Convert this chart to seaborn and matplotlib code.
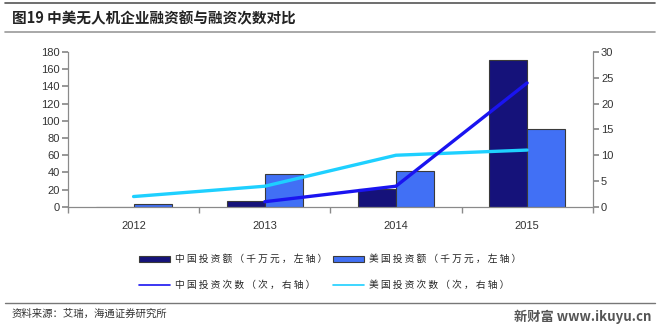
import matplotlib
matplotlib.use("Agg")
import matplotlib.pyplot as plt
import seaborn as sns
import pandas as pd
import numpy as np
from matplotlib.patches import Patch
from matplotlib.lines import Line2D

years = ["2012", "2013", "2014", "2015"]
cn_amount = [0, 7, 21, 171]
us_amount = [3, 38, 42, 91]
cn_count = [np.nan, 1, 4, 24]
us_count = [2, 4, 10, 11]

lbl_cn_amt = "中 国 投 资 额 （ 千 万 元 ， 左 轴 ）"
lbl_us_amt = "美 国 投 资 额 （ 千 万 元 ， 左 轴 ）"
lbl_cn_cnt = "中 国 投 资 次 数 （ 次 ， 右 轴 ）"
lbl_us_cnt = "美 国 投 资 次 数 （ 次 ， 右 轴 ）"

sns.set_theme(style="white")
plt.rcParams["font.family"] = ["Liberation Sans", "Noto Sans CJK SC", "DejaVu Sans"]

c_cn_bar = "#15127a"
c_us_bar = "#4170f5"
c_cn_line = "#1a14f0"
c_us_line = "#1ed0ff"
grey = "#8a8a8a"

bars = pd.DataFrame({
    "year": years * 2,
    "value": cn_amount + us_amount,
    "series": ["cn"] * 4 + ["us"] * 4,
})

fig = plt.figure(figsize=(6.6, 3.31), dpi=100)
ax = fig.add_axes([0.103, 0.375, 0.795, 0.468])

sns.barplot(data=bars, x="year", y="value", hue="series", order=years,
            hue_order=["cn", "us"], palette=[c_cn_bar, c_us_bar], saturation=1,
            width=0.58, edgecolor="#3a3a3a", linewidth=0.8, ax=ax, legend=False)
ax.set_ylim(0, 180)
ax.set_yticks(range(0, 181, 20))
ax.set_xlim(-0.5, 3.5)

ax2 = ax.twinx()
lines = pd.DataFrame({"year": years, "cn": cn_count, "us": us_count})
sns.lineplot(x=np.arange(len(years)), y=lines["us"], ax=ax2, color=c_us_line, lw=2.4)
sns.lineplot(x=np.arange(len(years)), y=lines["cn"], ax=ax2, color=c_cn_line, lw=2.4)
ax2.set_ylim(0, 30)
ax2.set_yticks(range(0, 31, 5))
ax2.set_xlim(-0.5, 3.5)
ax2.set_ylabel("")

ax.set_xlabel("")
ax.set_ylabel("")
ax.set_xticks(range(4))
ax.set_xticklabels(years)
ax.set_xticks(np.arange(-0.5, 4, 1), minor=True)

for a in (ax, ax2):
    for s in a.spines.values():
        s.set_color(grey)
        s.set_linewidth(0.8)
    a.spines["top"].set_visible(False)
    a.tick_params(colors="#333333", labelsize=8)
ax.tick_params(axis="y", which="major", length=4, color=grey, direction="out", left=True, pad=2)
ax2.tick_params(axis="y", which="major", length=4, color=grey, direction="out", right=True, pad=2)
ax.tick_params(axis="x", which="major", length=0, pad=10)
ax.tick_params(axis="x", which="minor", length=4, color=grey, direction="out", bottom=True)
ax2.tick_params(axis="x", which="both", length=0)

handles = [
    Patch(facecolor=c_cn_bar, edgecolor="#3a3a3a", linewidth=0.8, label=lbl_cn_amt),
    Line2D([0], [0], color=c_cn_line, lw=1.2, label=lbl_cn_cnt),
    Patch(facecolor=c_us_bar, edgecolor="#3a3a3a", linewidth=0.8, label=lbl_us_amt),
    Line2D([0], [0], color=c_us_line, lw=1.2, label=lbl_us_cnt),
]
fig.legend(handles=handles, loc="center", bbox_to_anchor=(0.5, 0.178), ncol=2,
           frameon=False, handlelength=3.2, handleheight=0.5,
           columnspacing=0.6, handletextpad=0.5, labelspacing=1.6,
           prop={"family": ["Noto Sans CJK SC"], "size": 7})

fig.add_artist(Line2D([0.008, 0.992], [1 - 3 / 331, 1 - 3 / 331], color="#555555", lw=1.2))
fig.add_artist(Line2D([0.008, 0.992], [1 - 32 / 331, 1 - 32 / 331], color="#999999", lw=1.2))
fig.add_artist(Line2D([0.008, 0.992], [1 - 303 / 331, 1 - 303 / 331], color="#777777", lw=1.0))
fig.text(12 / 660, 1 - 18 / 331, "图19 中美无人机企业融资额与融资次数对比", fontsize=10.5,
         fontweight="bold", va="center", ha="left", color="#222222",
         family=["Noto Sans CJK SC"])
fig.text(12 / 660, 1 - 314 / 331, "资料来源：艾瑞，海通证券研究所", fontsize=7.5,
         va="center", ha="left", color="#333333", family=["Noto Sans CJK SC"])
fig.text(652 / 660, 1 - 317 / 331, "新财富 www.ikuyu.cn", fontsize=9.5, fontweight="bold",
         va="center", ha="right", color="#555555",
         family=["Noto Sans CJK SC", "Liberation Sans"])

fig.savefig("out.png", dpi=100)
